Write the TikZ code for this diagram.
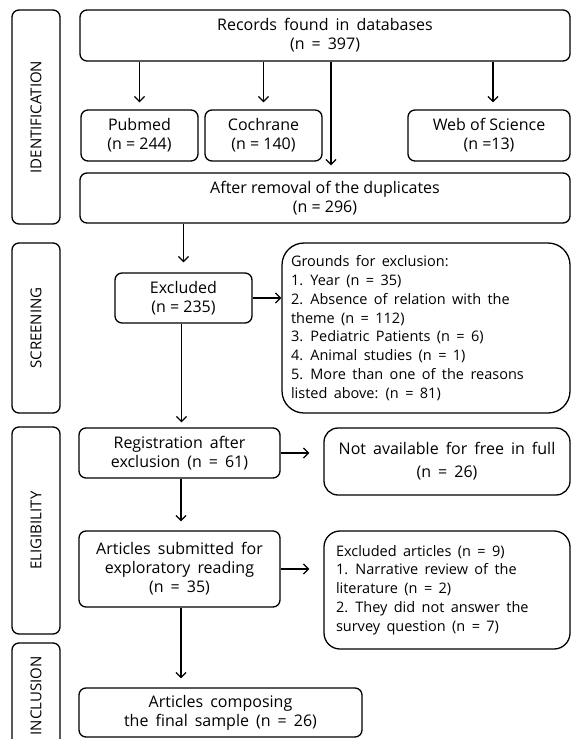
\documentclass[tikz,border=0pt]{standalone}
\usepackage{fontspec}
\setmainfont{Open Sans}
\usetikzlibrary{arrows.meta}

\begin{document}
\begin{tikzpicture}[
    x=1pt, y=-1pt,
    box/.style={draw, line width=1.3pt, rounded corners=7pt, align=center, inner sep=0pt, font=\fontsize{16}{19}\selectfont},
    wide/.style={execute at begin node={\spaceskip=0.44em plus 0.1em\relax}},
    list/.style={box, wide, align=left, font=\fontsize{14.5}{18.8}\selectfont},
    phase/.style={box, rotate=90, minimum height=48pt, font=\fontsize{15}{18}\selectfont},
    arr/.style={-{Straight Barb[length=5pt,width=10pt]}, line width=1.3pt, shorten >=7pt},
  ]
  \useasboundingbox (0,0) rectangle (571,739);

  % phases on the left
  \node[phase, minimum width=214pt] (ident) at (36,117) {IDENTIFICATION};
  \node[phase, minimum width=170pt] (screen) at (36,328) {SCREENING};
  \node[phase, minimum width=207pt] (elig) at (36,530.5) {ELIGIBILITY};
  \node[phase, minimum width=106pt] (incl) at (36,696) {INCLUSION};

  % identification
  \node[box, wide, minimum width=490pt, minimum height=51pt] (rec) at (325,35.5) {Records found in databases\\(n = 397)};
  \node[box, minimum width=117pt, minimum height=51pt] (pub) at (139.5,135.5) {Pubmed\\(n = 244)};
  \node[box, minimum width=117pt, minimum height=51pt] (coc) at (263.5,135.5) {Cochrane\\(n = 140)};
  \node[box, minimum width=162pt, minimum height=51pt] (wos) at (489,135.5) {Web of Science\\(n =13)};
  \node[box, minimum width=490pt, minimum height=50pt] (dup) at (325,198) {After removal of the duplicates\\(n = 296)};

  % screening
  \node[box, minimum width=137pt, minimum height=50pt] (exc) at (183.5,298) {Excluded\\(n = 235)};
  \node[list, rounded corners=22pt, text width=270pt, inner xsep=9pt, minimum height=170pt] (grd) at (426,328)
    {Grounds for exclusion:\\1. Year (n = 35)\\2. Absence of relation with the\\theme (n = 112)\\3. Pediatric Patients (n = 6)\\4. Animal studies (n = 1)\\5. More than one of the reasons\\listed above: (n = 81)};

  % eligibility
  \node[box, wide, minimum width=201pt, minimum height=50pt] (reg) at (179.5,453) {Registration after\\exclusion (n = 61)};
  \node[box, wide, rounded corners=14pt, minimum width=246pt, minimum height=67pt] (nav) at (447,461.5) {Not available for free in full\\[4pt](n = 26)};
  \node[box, wide, minimum width=201pt, minimum height=76pt] (sub) at (179.5,569) {Articles submitted for\\exploratory reading\\(n = 35)};
  \node[list, rounded corners=16pt, text width=222pt, inner xsep=12pt, minimum height=118pt] (exa) at (447,590)
    {Excluded articles (n = 9)\\1. Narrative review of the\\literature (n = 2)\\2. They did not answer the\\survey question (n = 7)};

  % inclusion
  \node[box, wide, minimum width=283pt, minimum height=49pt] (fin) at (220.5,712.5) {Articles composing\\the final sample (n = 26)};

  % connectors
  \draw[arr] (rec.south -| pub.north) -- (pub.north);
  \draw[arr] (rec.south -| coc.north) -- (coc.north);
  \draw[arr] ([xshift=4pt]rec.south -| wos.north) -- ([xshift=4pt]wos.north);
  \draw[arr] ([xshift=6pt]rec.south) -- ([xshift=6pt]dup.north);
  \draw[arr, shorten >=10pt] (exc.north |- dup.south) -- (exc.north);
  \draw[arr, shorten >=0pt] (exc.east) -- (exc.east -| grd.west);
  \draw[arr, shorten >=5pt] ([xshift=-2pt]exc.south) -- ([xshift=-2pt]exc.south |- reg.north);
  \draw[arr, shorten >=14pt] (reg.east) -- (reg.east -| nav.west);
  \draw[arr, shorten >=9pt] ([xshift=1.5pt]reg.south) -- ([xshift=1.5pt]sub.north);
  \draw[arr, shorten >=14pt] (sub.east) -- (sub.east -| exa.west);
  \draw[arr, shorten >=9pt] ([xshift=1.5pt]sub.south) -- ([xshift=1.5pt]sub.south |- fin.north);
\end{tikzpicture}
\end{document}
